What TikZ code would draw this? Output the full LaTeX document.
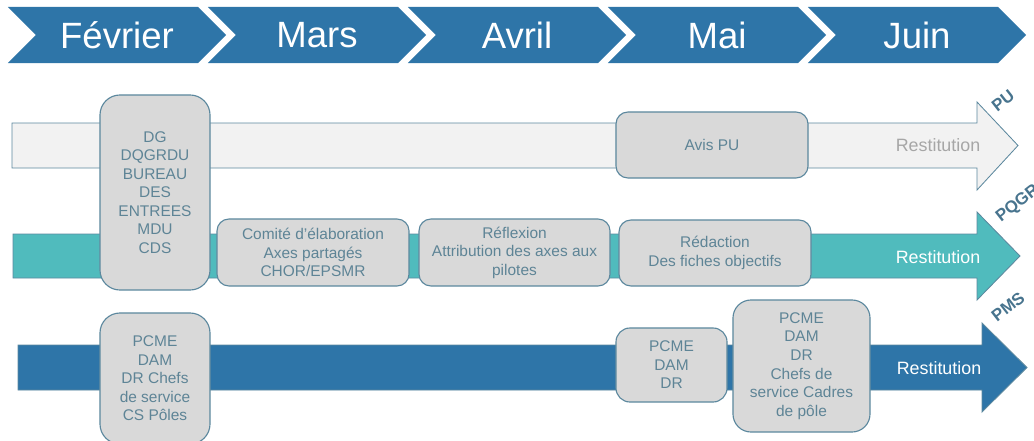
\documentclass[tikz,border=0pt]{standalone}
\usepackage{fontspec}
\setmainfont{Liberation Sans}
\usetikzlibrary{shapes,arrows,positioning,calc}
\definecolor{monthblue}{RGB}{46,117,168}
\definecolor{qualteal}{RGB}{80,187,189}
\definecolor{pugrey}{RGB}{242,242,242}
\definecolor{boxgrey}{RGB}{217,217,217}
\definecolor{edgeblue}{RGB}{92,136,158}
\definecolor{boxtext}{RGB}{94,132,150}
\definecolor{tagblue}{RGB}{72,116,142}
\definecolor{restgrey}{RGB}{166,166,166}

\begin{document}
\begin{tikzpicture}[x=0.025cm,y=-0.025cm,
    month/.style={signal,signal from=west,signal to=east,signal pointer angle=90,
        fill=monthblue,minimum width=5.45cm,minimum height=1.4cm,inner sep=0pt,
        text=white,font=\fontsize{26}{30}\selectfont},
    band/.style={draw=edgeblue,line width=0.6pt},
    task/.style={draw=edgeblue,line width=0.8pt,fill=boxgrey,rounded corners=0.3cm,
        align=center,text=boxtext,font=\fontsize{11}{13.2}\selectfont,inner sep=2pt},
    tag/.style={rotate=38,text=tagblue,font=\bfseries\fontsize{12}{14}\selectfont},
    restit/.style={font=\fontsize{12.7}{15}\selectfont}]
    \useasboundingbox (0,0) rectangle (1034,441);

    % Month chevrons
    \node[month] (fev) at (117,35) {Février};
    \node[month] (mars) at (317,35) {Mars};
    \node[month] (avril) at (517,35) {Avril};
    \node[month] (mai) at (717,35) {Mai};
    \node[month] (juin) at (917,35) {Juin};

    % PU arrow
    \draw[band,fill=pugrey] (12,123) -- (977,123) -- (977,102) -- (1018,145.5)
        -- (977,190) -- (977,168) -- (12,168) -- cycle;
    \node[restit,text=restgrey] (restpu) at (938,145) {Restitution};
    \node[tag] (pu) at (1003,101) {PU};

    % PQGR arrow
    \draw[band,fill=qualteal] (13,234) -- (977,234) -- (977,212) -- (1020,256)
        -- (977,300) -- (977,278) -- (13,278) -- cycle;
    \node[restit,text=white] (restpqgr) at (938,257) {Restitution};
    \node[tag] (pqgr) at (1018,204) {PQGR};

    % PMS arrow
    \draw[band,fill=monthblue] (18,345) -- (982,345) -- (982,323) -- (1027,367.5)
        -- (982,412) -- (982,390) -- (18,390) -- cycle;
    \node[restit,text=white] (restpms) at (939,368) {Restitution};
    \node[tag] (pms) at (1008,307) {PMS};

    % Actors and steps
    \node[task,rounded corners=0.5cm,minimum width=2.75cm,minimum height=4.875cm] (dg) at (155,192.5)
        {DG\\DQGRDU\\BUREAU\\DES\\ENTREES\\MDU\\CDS};
    \node[task,rounded corners=0.5cm,minimum width=2.75cm,minimum height=3.275cm] (pcmeA) at (155,378.5)
        {PCME\\DAM\\DR Chefs\\de service\\CS Pôles};
    \node[task,minimum width=4.8cm,minimum height=1.675cm] (comite) at (313,252.5)
        {Comité d’élaboration\\Axes partagés\\CHOR/EPSMR};
    \node[task,minimum width=4.775cm,minimum height=1.675cm] (reflexion) at (514.5,252.5)
        {Réflexion\\Attribution des axes aux\\pilotes};
    \node[task,minimum width=4.8cm,minimum height=1.65cm] (avis) at (712,145) {Avis PU};
    \node[task,minimum width=4.8cm,minimum height=1.65cm] (redaction) at (715,253)
        {Rédaction\\Des fiches objectifs};
    \node[task,rounded corners=0.35cm,minimum width=2.775cm,minimum height=1.85cm] (pcmeB) at (671.5,365)
        {PCME\\DAM\\DR};
    \node[task,rounded corners=0.45cm,minimum width=3.425cm,minimum height=3.3cm] (pcmeC) at (801.5,366)
        {PCME\\DAM\\DR\\Chefs de\\service Cadres\\de pôle};
\end{tikzpicture}
\end{document}
